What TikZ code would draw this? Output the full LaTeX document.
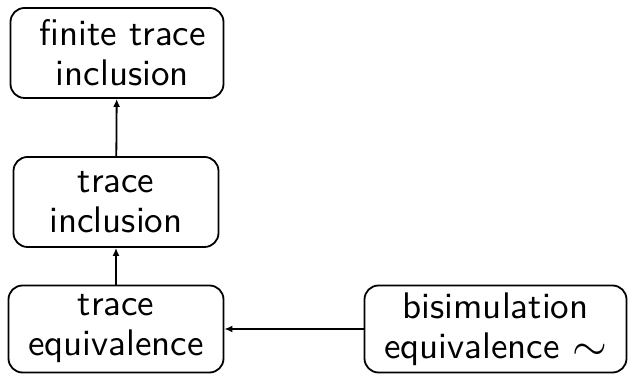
\documentclass[tikz,border=0pt]{standalone}
\usepackage{fontspec}
\setsansfont{lmsans10-regular}[Extension=.otf]
\usetikzlibrary{arrows.meta}
\begin{document}
\begin{tikzpicture}[x=1pt,y=1pt,
  box/.style={draw, line width=1.8pt, rounded corners=14pt, align=center, inner sep=0pt,
    font=\sffamily\fontsize{37}{40}\selectfont},
  arr/.style={line width=1.8pt, -{Latex[length=8pt,width=7pt]}}]
\useasboundingbox (0,0) rectangle (629,374);
\node[box, minimum width=213pt, minimum height=90pt] (fti) at (117,321) {\hspace*{11pt}finite trace\\\hspace*{11pt}inclusion};
\node[box, minimum width=205pt, minimum height=90pt] (ti) at (116,172) {trace\\inclusion};
\node[box, minimum width=215pt, minimum height=87pt] (te) at (116,45) {trace\\equivalence};
\node[box, minimum width=262pt, minimum height=87pt] (be) at (495.5,45) {bisimulation\\equivalence \smash{\raisebox{-2pt}{\scalebox{1.8}{$\sim$}}}};
\draw[arr] (ti) -- (fti);
\draw[arr] (te) -- (ti);
\draw[arr] (be) -- (te);
\end{tikzpicture}
\end{document}
